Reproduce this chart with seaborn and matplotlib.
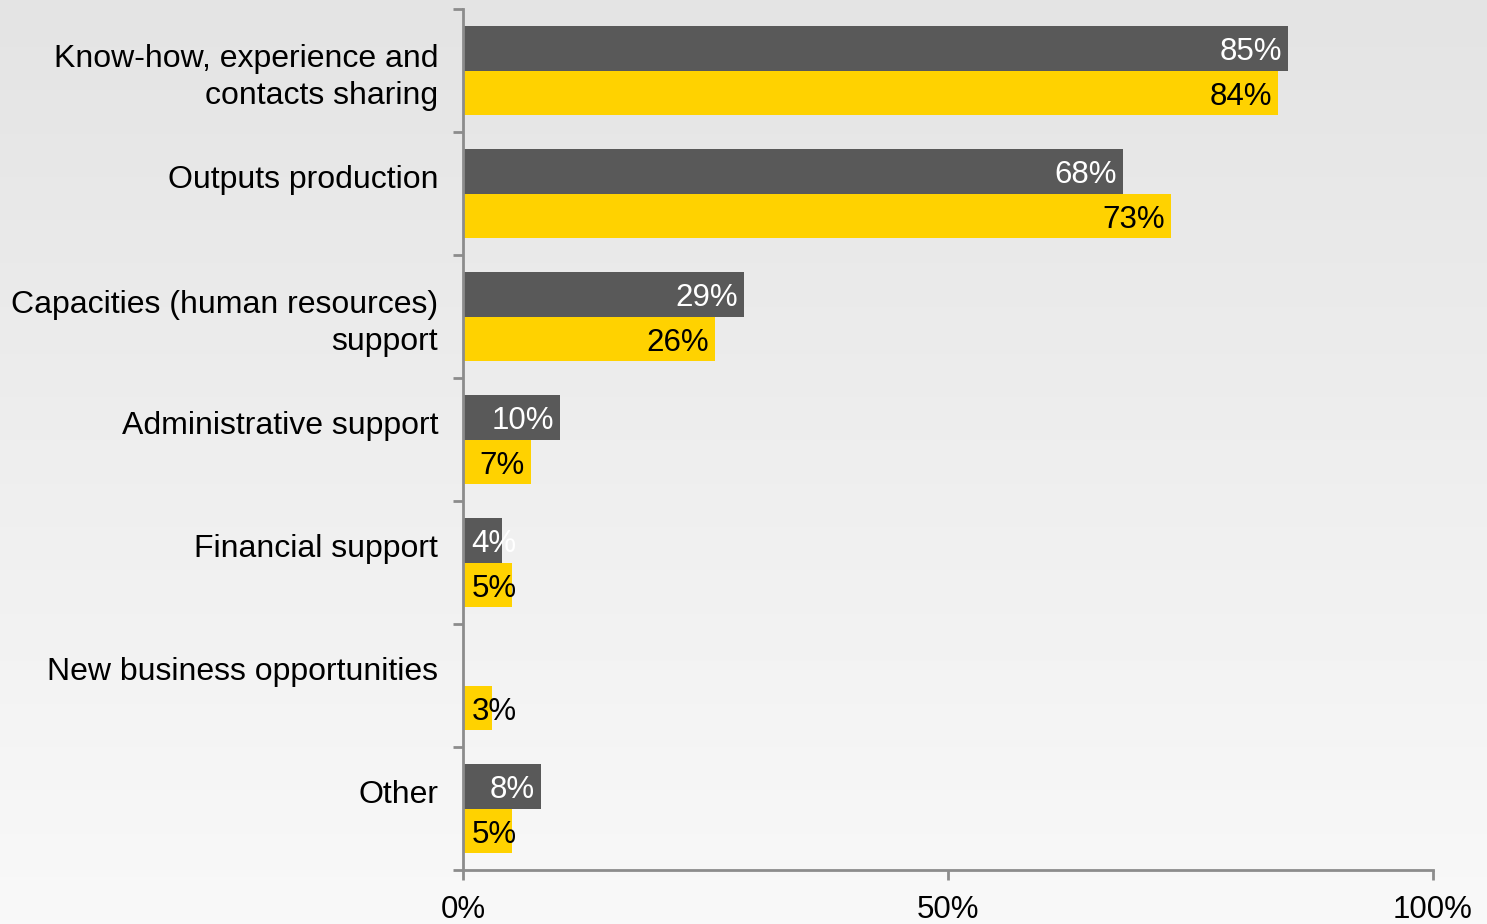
import numpy as np
import pandas as pd
import matplotlib
matplotlib.use("Agg")
import matplotlib.pyplot as plt
from matplotlib.colors import LinearSegmentedColormap
from matplotlib.transforms import ScaledTranslation
import seaborn as sns

categories = [
    "Know-how, experience and\ncontacts sharing",
    "Outputs production",
    "Capacities (human resources)\nsupport",
    "Administrative support",
    "Financial support",
    "New business opportunities",
    "Other",
]
series_names = ["Series 1", "Series 2"]
series1_values = [85, 68, 29, 10, 4, 0, 8]
series2_values = [84, 73, 26, 7, 5, 3, 5]
x_ticks = [0, 50, 100]
x_tick_labels = ["0%", "50%", "100%"]

colors = ["#595959", "#FFD200"]
label_colors = ["white", "black"]

df = pd.DataFrame({
    "category": categories * 2,
    "series": [series_names[0]] * len(categories) + [series_names[1]] * len(categories),
    "value": series1_values + series2_values,
})

sns.set_theme(style="white")
plt.rcParams["font.family"] = ["Liberation Sans", "DejaVu Sans"]

fig = plt.figure(figsize=(14.87, 9.24), dpi=100)

# gradient background
bg = fig.add_axes([0, 0, 1, 1], zorder=-10)
cmap = LinearSegmentedColormap.from_list("bg", ["#e4e4e4", "#f9f9f9"])
bg.imshow(np.linspace(0, 1, 256).reshape(-1, 1), aspect="auto", cmap=cmap,
          extent=[0, 1, 0, 1], origin="upper")
bg.set_axis_off()

ax = fig.add_axes([463 / 1487, 1 - 870 / 924, (1433 - 463) / 1487, (870 - 9) / 924])
ax.set_facecolor("none")

sns.barplot(data=df, y="category", x="value", hue="series", order=categories,
            hue_order=series_names, palette=colors, orient="h", width=0.72,
            dodge=True, legend=False, saturation=1, ax=ax, linewidth=0)

ax.set_xlim(0, 100)
ax.set_ylim(len(categories) - 0.5, -0.5)
ax.set_xlabel("")
ax.set_ylabel("")

fs = 22.5
down = ax.transData + ScaledTranslation(0, -0.04, fig.dpi_scale_trans)
# data labels
for si, vals in enumerate([series1_values, series2_values]):
    offset = -0.18 if si == 0 else 0.18
    for ci, v in enumerate(vals):
        if v <= 0:
            continue
        y = ci + offset
        if v < 6.5:
            ax.text(0.9, y, f"{v}%", ha="left", va="center", fontsize=fs,
                    color=label_colors[si], transform=down)
        else:
            ax.text(v - 0.6, y, f"{v}%", ha="right", va="center", fontsize=fs,
                    color=label_colors[si], transform=down)

# spines
for s in ["top", "right"]:
    ax.spines[s].set_visible(False)
for s in ["left", "bottom"]:
    ax.spines[s].set_color("#8c8c8c")
    ax.spines[s].set_linewidth(2)

ax.set_xticks(x_ticks)
ax.set_xticklabels(x_tick_labels, fontsize=fs)
ax.tick_params(axis="x", which="major", direction="out", length=7, width=2,
               color="#8c8c8c", pad=11, labelcolor="black", bottom=True)

ax.set_yticks(range(len(categories)))
ax.set_yticklabels(categories, fontsize=23, linespacing=1.32)
ax.set_yticks(np.arange(-0.5, len(categories), 1.0), minor=True)
ax.tick_params(axis="y", which="major", length=0, pad=18, labelcolor="black", left=True)
ax.tick_params(axis="y", which="minor", direction="out", length=7, width=2,
               color="#8c8c8c", left=True)

up = ScaledTranslation(0, 0.17, fig.dpi_scale_trans)
for lab in ax.get_yticklabels():
    if "\n" not in lab.get_text():
        lab.set_transform(lab.get_transform() + up)

fig.savefig("out.png", dpi=100)
